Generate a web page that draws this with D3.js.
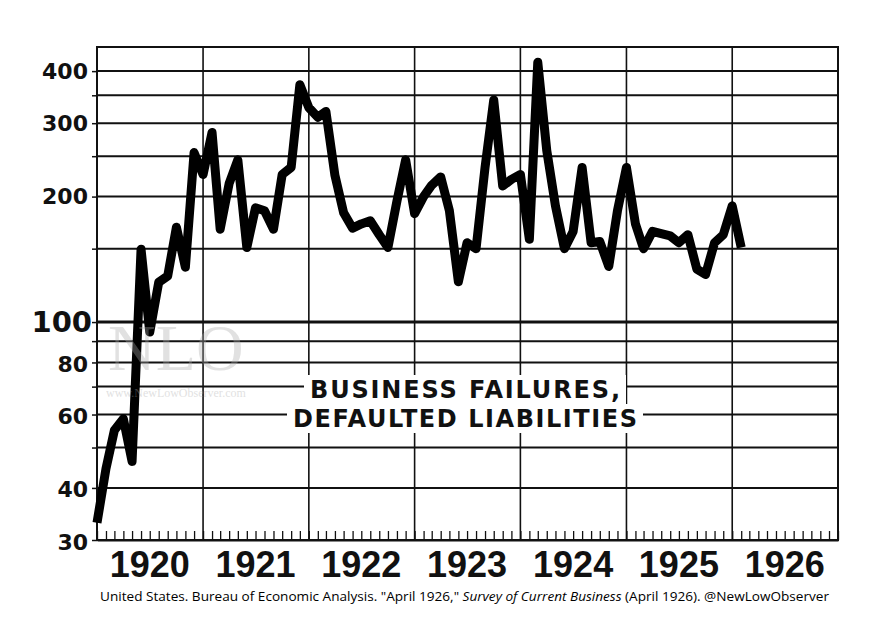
<!DOCTYPE html>
<html>
<head>
<meta charset="utf-8">
<script src="https://cdn.jsdelivr.net/npm/d3@7"></script>
<style>
body { margin: 0; background: #fff; }
</style>
</head>
<body>
<svg id="chart"></svg>
<script>
// monthly values, Jan 1920 - Feb 1926 (log scale)
var startYear = 1920;
var failures = [
  33, 44.5, 55, 58.6, 46.3, 149.5, 94.6, 124.6, 129, 168.8, 135.4, 255,
  226, 285, 167, 215, 245, 151, 188, 185, 167, 226, 235, 371,
  327, 310, 320, 225, 183, 168, 172, 175, 162, 151, 195, 245,
  182, 200, 213, 223, 185, 125, 155, 150, 235, 341, 212, 220,
  226, 158, 420, 258, 190, 150, 165, 235, 155, 156, 136, 185,
  235, 172, 150, 165, 163, 161, 155, 162, 134, 130, 155, 162,
  190, 151
];
var years = ["1920", "1921", "1922", "1923", "1924", "1925", "1926"];
var yLabels = [400, 300, 200, 100, 80, 60, 40, 30];
var yGrid = [40, 50, 60, 70, 80, 90, 100, 150, 200, 250, 300, 350, 400];
var titleLines = ["BUSINESS FAILURES,", "DEFAULTED LIABILITIES"];

var width = 891;
var height = 625;
var plotL = 97, plotR = 838, plotT = 47, plotB = 540;

var svg = d3.select("#chart")
  .attr("width", width)
  .attr("height", height)
  .style("background", "#fff");

var x = d3.scaleTime()
  .domain([new Date(startYear, 0, 1), new Date(startYear + years.length, 0, 1)])
  .range([plotL, plotR]);

var y = d3.scaleLog()
  .domain([30, 457])
  .range([plotB, plotT]);

var data = failures.map(function(d, i) {
  return { date: new Date(startYear, i, 1), value: d };
});

// horizontal grid
svg.selectAll(".hgrid")
  .data(yGrid)
  .enter()
  .append("line")
  .attr("x1", plotL)
  .attr("x2", plotR)
  .attr("y1", function(d) { return y(d); })
  .attr("y2", function(d) { return y(d); })
  .attr("stroke", "#111")
  .attr("stroke-width", function(d) { return d == 100 ? 3 : 2; });

// vertical year lines
svg.selectAll(".vgrid")
  .data(years.slice(1))
  .enter()
  .append("line")
  .attr("x1", function(d) { return x(new Date(+d, 0, 1)); })
  .attr("x2", function(d) { return x(new Date(+d, 0, 1)); })
  .attr("y1", plotT)
  .attr("y2", plotB)
  .attr("stroke", "#111")
  .attr("stroke-width", 1.6);

// month ticks along bottom
var xAxis = d3.axisBottom(x)
  .ticks(d3.timeMonth.every(1))
  .tickSizeInner(-9)
  .tickSizeOuter(0)
  .tickFormat("");
svg.append("g")
  .attr("transform", "translate(0," + plotB + ")")
  .call(xAxis)
  .call(function(g) {
    g.select(".domain").attr("stroke", "#111").attr("stroke-width", 2);
    g.selectAll(".tick line").attr("stroke", "#111").attr("stroke-width", 1.3);
  });

// left ticks
var yAxis = d3.axisLeft(y)
  .tickValues(yGrid.concat([30]))
  .tickSizeInner(5)
  .tickSizeOuter(0)
  .tickFormat("");
svg.append("g")
  .attr("transform", "translate(" + plotL + ",0)")
  .call(yAxis)
  .call(function(g) {
    g.select(".domain").remove();
    g.selectAll(".tick line").attr("stroke", "#111").attr("stroke-width", 1.5);
  });

// frame
svg.append("rect")
  .attr("x", plotL)
  .attr("y", plotT)
  .attr("width", plotR - plotL)
  .attr("height", plotB - plotT)
  .attr("fill", "none")
  .attr("stroke", "#111")
  .attr("stroke-width", 2);

// y labels
svg.selectAll(".ylab")
  .data(yLabels)
  .enter()
  .append("text")
  .text(function(d) { return d; })
  .attr("x", function(d) { return d == 100 ? 92 : 88; })
  .attr("y", function(d) { return y(d) + (d < 100 ? 2 : 0); })
  .attr("text-anchor", "end")
  .attr("dominant-baseline", "central")
  .attr("font-family", "DejaVu Sans, sans-serif")
  .attr("font-weight", "bold")
  .attr("font-size", function(d) { return d == 100 ? "29px" : "22px"; })
  .attr("fill", "#111");

// year labels
svg.selectAll(".xlab")
  .data(years)
  .enter()
  .append("text")
  .text(function(d) { return d; })
  .attr("x", function(d) { return x(new Date(+d, 6, 1)); })
  .attr("y", 577)
  .attr("text-anchor", "middle")
  .attr("font-family", "Liberation Sans, Arial, sans-serif")
  .attr("font-weight", "bold")
  .attr("font-size", "36px")
  .attr("fill", "#111");

// title block with white backing
var titleG = svg.append("g");
var titleY = [398, 427];
var titleW = [310, 344];
titleLines.forEach(function(t, i) {
  var txt = titleG.append("text")
    .text(t)
    .attr("x", 465)
    .attr("y", titleY[i])
    .attr("text-anchor", "middle")
    .attr("font-family", "DejaVu Sans, sans-serif")
    .attr("font-weight", "bold")
    .attr("font-size", "24px")
    .attr("textLength", titleW[i])
    .attr("lengthAdjust", "spacing")
    .attr("fill", "#111");
  var bb = txt.node().getBBox();
  titleG.insert("rect", "text")
    .attr("x", bb.x - 6)
    .attr("y", bb.y - 1)
    .attr("width", bb.width + 12)
    .attr("height", bb.height + 1)
    .attr("fill", "#fff");
});

// data line
var line = d3.line()
  .x(function(d) { return x(d.date); })
  .y(function(d) { return y(d.value); });

svg.append("path")
  .datum(data)
  .attr("d", line)
  .attr("fill", "none")
  .attr("stroke", "#000")
  .attr("stroke-width", 9)
  .attr("stroke-linejoin", "round")
  .attr("stroke-linecap", "butt");

// faint watermark
svg.append("text")
  .text("NLO")
  .attr("x", 108)
  .attr("y", 370)
  .attr("font-family", "Liberation Serif, serif")
  .attr("font-size", "66px")
  .attr("fill", "#aaa")
  .attr("opacity", 0.35);
svg.append("text")
  .text("www.NewLowObserver.com")
  .attr("x", 106)
  .attr("y", 397)
  .attr("font-family", "Liberation Serif, serif")
  .attr("font-size", "12px")
  .attr("fill", "#aaa")
  .attr("opacity", 0.35);

// source note
var note = svg.append("text")
  .attr("x", 100)
  .attr("y", 601)
  .attr("font-family", "Open Sans, sans-serif")
  .attr("font-size", "13px")
  .attr("textLength", 729)
  .attr("lengthAdjust", "spacingAndGlyphs")
  .attr("fill", "#000");
note.append("tspan").text("United States. Bureau of Economic Analysis. \"April 1926,\" ");
note.append("tspan").attr("font-style", "italic").text("Survey of Current Business");
note.append("tspan").text(" (April 1926). @NewLowObserver");
</script>
</body>
</html>
